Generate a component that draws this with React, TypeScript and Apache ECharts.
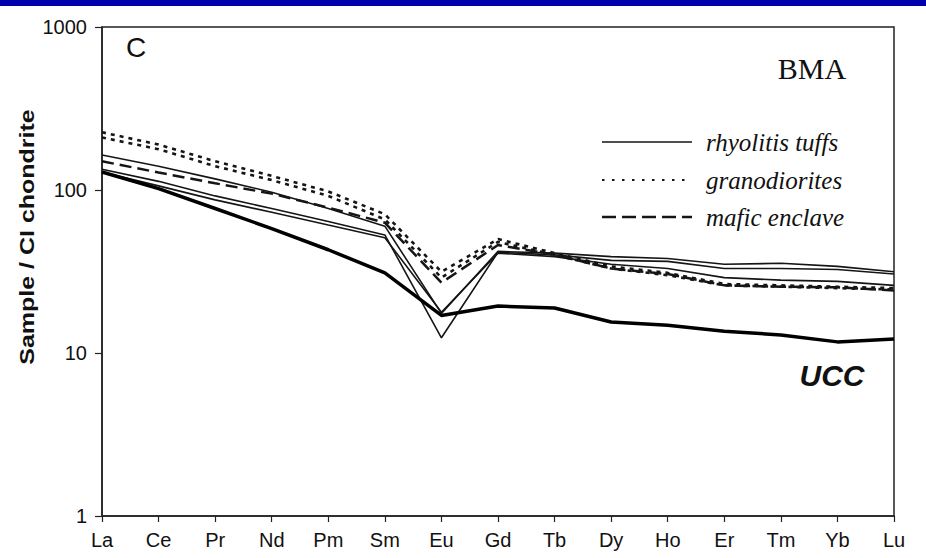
import React, { useEffect, useRef } from "react";
import * as echarts from "echarts";

const elements = ["La", "Ce", "Pr", "Nd", "Pm", "Sm", "Eu", "Gd", "Tb", "Dy", "Ho", "Er", "Tm", "Yb", "Lu"];

const rhyolite1 = [164, 140, 117, 97, 77, 60, 17.5, 42, 41, 39, 38, 35, 35.5, 34, 31.5];
const rhyolite2 = [134, 113, 92, 77, 64, 53, 12.4, 41.5, 40, 37, 36.5, 33, 33, 32.5, 30.5];
const rhyolite3 = [129, 106, 87, 73, 61, 51, 17.8, 41, 39, 35, 33, 29, 28, 27.5, 26];
const granodiorite1 = [226, 190, 150, 122, 98, 71, 31.5, 50, 41, 34, 31, 26.5, 26, 25.5, 25];
const granodiorite2 = [210, 178, 140, 115, 92, 66, 29, 48, 40, 33, 30, 26, 25.5, 25, 24.5];
const maficEnclave = [150, 128, 110, 95, 78, 63, 27, 46, 40, 33, 30.5, 26, 25.5, 25.3, 24.2];
const ucc = [129, 102, 77, 58, 43, 31, 17, 19.4, 18.9, 15.5, 14.8, 13.6, 12.9, 11.7, 12.2];

const legendLabels = ["rhyolitis tuffs", "granodiorites", "mafic enclave"];

export default function App() {
  const ref = useRef<HTMLDivElement>(null);
  useEffect(() => {
    document.body.style.margin = "0";
    if (!ref.current) return;
    const chart = echarts.init(ref.current, null, { renderer: "svg" });
    const ink = "#151515";
    const thin = (name: string, data: number[]) => ({
      name, type: "line", data, symbol: "none", silent: true,
      lineStyle: { color: ink, width: 1.6, type: "solid" },
    });
    const dotted = (name: string, data: number[]) => ({
      name, type: "line", data, symbol: "none", silent: true,
      lineStyle: { color: ink, width: 2.6, type: [4, 5] },
    });
    const option: any = {
      animation: false,
      backgroundColor: "#ffffff",
      grid: { left: 102, right: 32, top: 27, bottom: 42, show: true, borderColor: "#222", borderWidth: 1.5 },
      xAxis: {
        type: "category",
        data: elements,
        boundaryGap: false,
        axisLine: { lineStyle: { color: "#222", width: 1.5 } },
        axisTick: { show: true, length: 6, lineStyle: { color: "#222", width: 1.2 } },
        axisLabel: { fontSize: 20, color: "#111", margin: 14, fontFamily: "Liberation Sans" },
        splitLine: { show: false },
      },
      yAxis: {
        type: "log",
        logBase: 10,
        min: 1,
        max: 1000,
        axisLine: { show: true, lineStyle: { color: "#222", width: 1.5 } },
        axisTick: { show: true, length: 7, lineStyle: { color: "#222", width: 1.2 } },
        axisLabel: {
          fontSize: 20, color: "#111", margin: 15, fontFamily: "Liberation Sans",
          formatter: (v: number) => String(Math.round(v)),
        },
        splitLine: { show: false },
        minorTick: { show: false },
      },
      series: [
        thin(legendLabels[0] + " 1", rhyolite1),
        thin(legendLabels[0] + " 2", rhyolite2),
        thin(legendLabels[0] + " 3", rhyolite3),
        dotted(legendLabels[1] + " 1", granodiorite1),
        dotted(legendLabels[1] + " 2", granodiorite2),
        {
          name: legendLabels[2], type: "line", data: maficEnclave, symbol: "none", silent: true,
          lineStyle: { color: ink, width: 2.5, type: [12, 6] },
        },
        {
          name: "UCC", type: "line", data: ucc, symbol: "none", silent: true,
          lineStyle: { color: "#000", width: 3.5, type: "solid" },
        },
      ],
      graphic: [
        { type: "rect", shape: { x: 0, y: 0, width: 926, height: 6 }, style: { fill: "#0000AC" }, silent: true },
        {
          type: "text", x: 136, y: 47,
          style: { text: "C", fontSize: 28, fontFamily: "Liberation Sans", fill: "#111", align: "center", verticalAlign: "middle", textAlign: "center", textVerticalAlign: "middle" },
        },
        {
          type: "text", x: 812, y: 68,
          style: { text: "BMA", fontSize: 30, fontFamily: "Liberation Serif", fill: "#111", align: "center", verticalAlign: "middle", textAlign: "center", textVerticalAlign: "middle" },
        },
        {
          type: "text", x: 832, y: 375,
          style: { text: "UCC", fontSize: 30, fontWeight: "bold", fontStyle: "italic", fontFamily: "Liberation Sans", fill: "#111", align: "center", verticalAlign: "middle", textAlign: "center", textVerticalAlign: "middle" },
        },
        {
          type: "text", x: 27, y: 237, rotation: Math.PI / 2, scaleX: 1.25,
          style: { text: "Sample / CI chondrite", fontSize: 20, fontWeight: "bold", fontFamily: "Liberation Sans", fill: "#111", align: "center", verticalAlign: "middle", textAlign: "center", textVerticalAlign: "middle" },
        },
        { type: "line", shape: { x1: 602, y1: 142, x2: 692, y2: 142 }, style: { stroke: ink, lineWidth: 1.5 } },
        { type: "line", shape: { x1: 602, y1: 180, x2: 692, y2: 180 }, style: { stroke: ink, lineWidth: 2, lineDash: [2.5, 7.5] } },
        { type: "line", shape: { x1: 602, y1: 217, x2: 692, y2: 217 }, style: { stroke: ink, lineWidth: 2.5, lineDash: [14, 6] } },
        ...legendLabels.map((t, i) => ({
          type: "text", x: 706, y: [142, 180, 217][i],
          style: { text: t, fontSize: 25, fontStyle: "italic", fontFamily: "Liberation Serif", fill: "#111", align: "left", verticalAlign: "middle", textAlign: "left", textVerticalAlign: "middle" },
        })),
      ],
    };
    chart.setOption(option);
    return () => chart.dispose();
  }, []);
  return <div ref={ref} style={{ width: 926, height: 558 }} />;
}
